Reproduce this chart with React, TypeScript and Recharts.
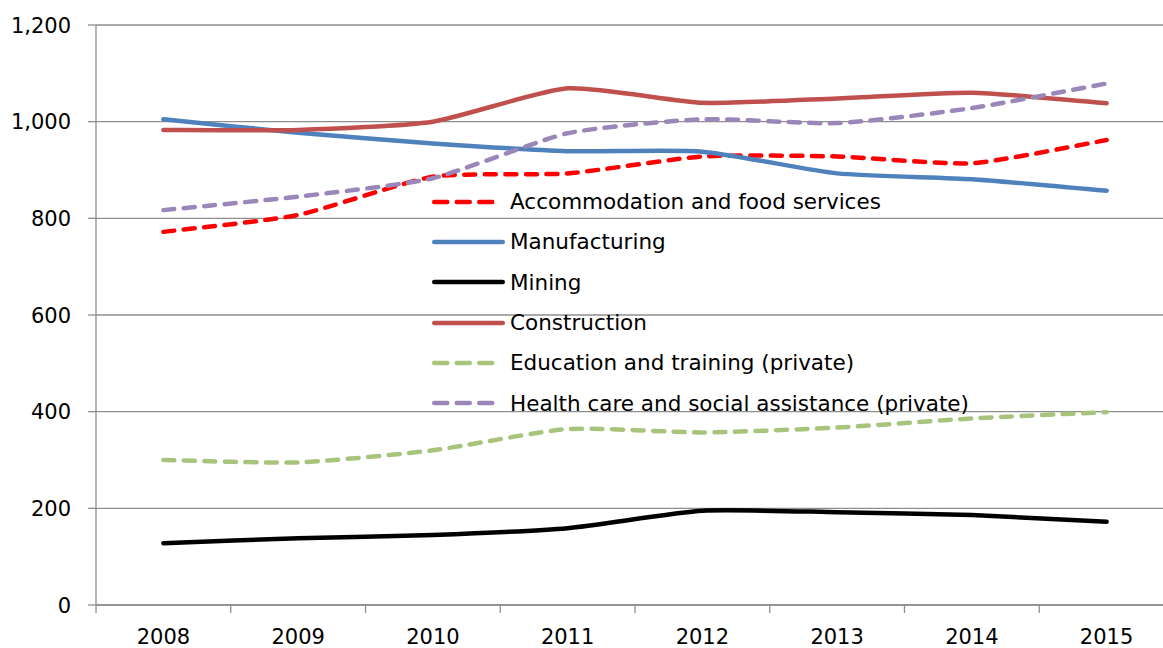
import { LineChart, Line, XAxis, YAxis, CartesianGrid, Legend } from 'recharts'

const years = ['2008', '2009', '2010', '2011', '2012', '2013', '2014', '2015']
const accommodation = [772, 807, 886, 893, 928, 928, 914, 962]
const manufacturing = [1005, 977, 955, 939, 938, 893, 881, 857]
const mining = [128, 138, 145, 159, 195, 192, 186, 172]
const construction = [983, 983, 1000, 1069, 1039, 1048, 1060, 1038]
const education = [300, 295, 320, 364, 357, 367, 386, 399]
const health = [817, 845, 883, 976, 1005, 997, 1028, 1079]
const yTicks = [0, 200, 400, 600, 800, 1000, 1200]

const series = [
  { key: 'accommodation', name: 'Accommodation and food services', color: '#FF0000', dashed: true },
  { key: 'manufacturing', name: 'Manufacturing', color: '#4F81BD', dashed: false },
  { key: 'mining', name: 'Mining', color: '#000000', dashed: false },
  { key: 'construction', name: 'Construction', color: '#C0504D', dashed: false },
  { key: 'education', name: 'Education and training (private)', color: '#A8C47C', dashed: true },
  { key: 'health', name: 'Health care and social assistance (private)', color: '#9A86B8', dashed: true },
]

const data = years.map((year, i) => ({
  year,
  accommodation: accommodation[i],
  manufacturing: manufacturing[i],
  mining: mining[i],
  construction: construction[i],
  education: education[i],
  health: health[i],
}))

const FONT = '"DejaVu Sans", sans-serif'
const AXIS = '#8E8E8E'
const DASH = '11 9.5'
const PAD = 67.4
const SMOOTH = 0.1

// light smoothing through every point, like Excel's smoothed line
function excelSmooth(context: any) {
  let pts: number[][] = []
  return {
    areaStart() {},
    areaEnd() {},
    lineStart() {
      pts = []
    },
    point(x: number, y: number) {
      pts.push([+x, +y])
    },
    lineEnd() {
      if (!pts.length) return
      context.moveTo(pts[0][0], pts[0][1])
      for (let i = 0; i < pts.length - 1; i++) {
        const p0 = pts[i - 1] || pts[i]
        const p1 = pts[i]
        const p2 = pts[i + 1]
        const p3 = pts[i + 2] || p2
        context.bezierCurveTo(
          p1[0] + (p2[0] - p0[0]) * SMOOTH,
          p1[1] + (p2[1] - p0[1]) * SMOOTH,
          p2[0] - (p3[0] - p1[0]) * SMOOTH,
          p2[1] - (p3[1] - p1[1]) * SMOOTH,
          p2[0],
          p2[1],
        )
      }
    },
  }
}

function YTick({ x, y, payload }: any) {
  return (
    <g>
      <line x1={x - 8} x2={x} y1={y} y2={y} stroke={AXIS} strokeWidth={1.3} />
      <text x={x - 25} y={y} dy="0.36em" textAnchor="end" fontFamily={FONT} fontSize={21} fill="#000">
        {Number(payload.value).toLocaleString('en-US')}
      </text>
    </g>
  )
}

function XTick({ x, y, payload, index }: any) {
  const step = (1078 - 2 * PAD) / (years.length - 1)
  const half = step / 2
  return (
    <g>
      <line x1={x - half} x2={x - half} y1={y} y2={y + 8} stroke={AXIS} strokeWidth={1.3} />
      {index === years.length - 1 && (
        <line x1={x + half} x2={x + half} y1={y} y2={y + 8} stroke={AXIS} strokeWidth={1.3} />
      )}
      <text x={x} y={y + 39} textAnchor="middle" fontFamily={FONT} fontSize={21} fill="#000">
        {payload.value}
      </text>
    </g>
  )
}

function LegendBox() {
  return (
    <div style={{ fontFamily: FONT, fontSize: 21.5, color: '#000' }}>
      {series.map((s) => (
        <div key={s.key} style={{ display: 'flex', alignItems: 'center', height: 40.3 }}>
          <svg width={80} height={10} style={{ display: 'block', flex: 'none' }}>
            <line
              x1={4.25}
              x2={s.dashed ? 62.25 : 72.75}
              y1={5}
              y2={5}
              stroke={s.color}
              strokeWidth={4.5}
              strokeLinecap="round"
              strokeDasharray={s.dashed ? '13 9.5' : undefined}
            />
          </svg>
          <span style={{ whiteSpace: 'nowrap' }}>{s.name}</span>
        </div>
      ))}
    </div>
  )
}

export default function App() {
  return (
    <div style={{ position: 'fixed', left: 0, top: 0, width: 1163, height: 648, overflow: 'hidden', background: '#fff' }}>
      <LineChart width={1180} height={648} data={data} margin={{ top: 25, right: 6, bottom: 0, left: 0 }}>
        <CartesianGrid vertical={false} stroke={AXIS} strokeWidth={1.3} />
        <XAxis
          dataKey="year"
          height={43}
          padding={{ left: PAD, right: PAD }}
          stroke={AXIS}
          strokeWidth={1.3}
          tickSize={0}
          tickMargin={0}
          tickLine={false}
          tick={<XTick />}
          interval={0}
        />
        <YAxis
          width={96}
          domain={[0, 1200]}
          ticks={yTicks}
          stroke={AXIS}
          strokeWidth={1.3}
          tickSize={0}
          tickMargin={0}
          tickLine={false}
          tick={<YTick />}
          interval={0}
        />
        <Legend
          layout="horizontal"
          align="center"
          verticalAlign="middle"
          content={<LegendBox />}
          wrapperStyle={{ left: 430, top: 181.5, width: 640 }}
        />
        {series.map((s) => (
          <Line
            key={s.key}
            dataKey={s.key}
            name={s.name}
            type={excelSmooth as any}
            stroke={s.color}
            strokeWidth={4.5}
            strokeLinecap="round"
            strokeDasharray={s.dashed ? DASH : undefined}
            dot={false}
            activeDot={false}
            isAnimationActive={false}
          />
        ))}
      </LineChart>
    </div>
  )
}
